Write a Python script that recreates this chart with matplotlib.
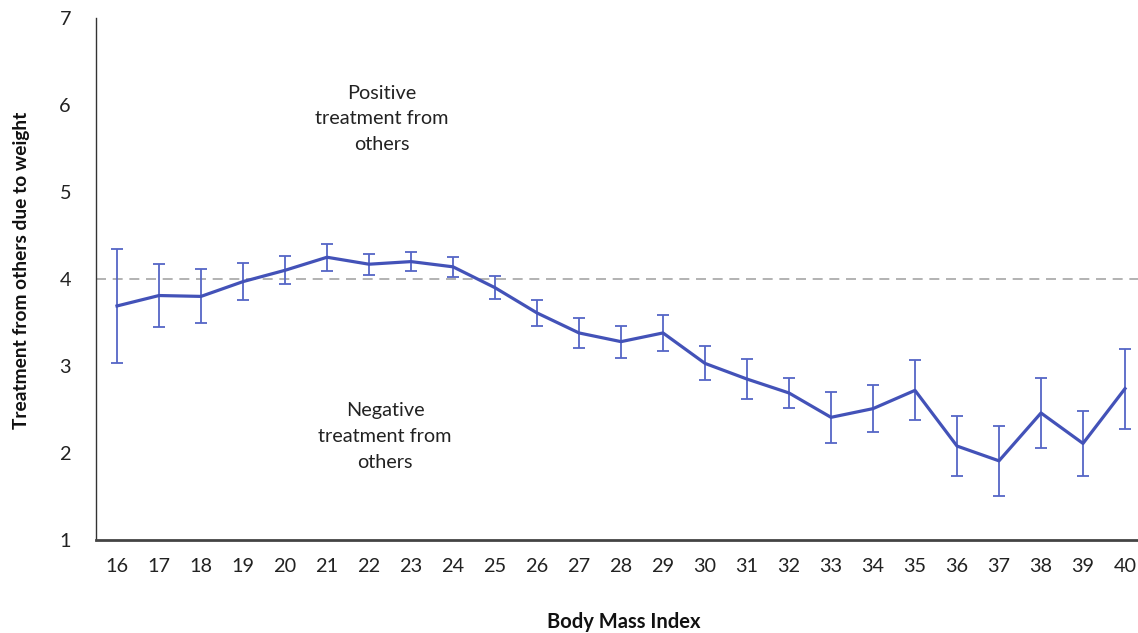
import matplotlib
matplotlib.use("Agg")
from matplotlib import pyplot as plt

bmi = list(range(16, 41))
treatment = [3.69, 3.81, 3.80, 3.97, 4.10, 4.25, 4.17, 4.20, 4.14, 3.90,
             3.61, 3.38, 3.28, 3.38, 3.03, 2.85, 2.69, 2.41, 2.51, 2.72,
             2.08, 1.91, 2.46, 2.11, 2.74]
err = [0.66, 0.36, 0.31, 0.21, 0.16, 0.155, 0.12, 0.11, 0.115, 0.135,
       0.145, 0.175, 0.185, 0.21, 0.195, 0.225, 0.175, 0.29, 0.27, 0.345,
       0.345, 0.40, 0.405, 0.375, 0.46]
y_ticks = [1, 2, 3, 4, 5, 6, 7]

plt.rcParams["font.family"] = ["Lato", "DejaVu Sans"]

fig = plt.figure(figsize=(11.38, 6.33), dpi=100)
ax = fig.add_axes([96 / 1138, 93 / 633, 1050 / 1138, 522 / 633])

line_color = "#4352b8"
ax.axhline(4, color="#a6a6a6", linestyle=(0, (6, 4)), linewidth=1.2, zorder=1)
ax.errorbar(bmi, treatment, yerr=err, color=line_color, linewidth=2.3,
            ecolor="#5566c6", elinewidth=1.3, capsize=4, capthick=1.3, zorder=3)

ax.text(22.3, 5.84, "Positive\ntreatment from\nothers", ha="center", va="center",
        fontsize=14.3, linespacing=1.62, color="#222222")
ax.text(22.38, 2.19, "Negative\ntreatment from\nothers", ha="center", va="center",
        fontsize=14.3, linespacing=1.62, color="#222222")

ax.set_xlim(15.5, 40.5)
ax.set_ylim(1, 7)
ax.set_xticks(bmi)
ax.set_yticks(y_ticks)
ax.tick_params(axis="both", length=0, labelsize=14.3, labelcolor="#222222")
ax.tick_params(axis="x", pad=13)
ax.tick_params(axis="y", pad=18)

for side in ["top", "right"]:
    ax.spines[side].set_visible(False)
ax.spines["left"].set_color("#333333")
ax.spines["left"].set_linewidth(1.0)
ax.spines["bottom"].set_color("#444444")
ax.spines["bottom"].set_linewidth(2.0)

fig.text(624 / 1138, 1 - 622 / 633, "Body Mass Index", ha="center", va="center",
         fontsize=14.5, fontweight="bold", color="#111111")
fig.text(22 / 1138, 1 - 270 / 633, "Treatment from others due to weight",
         ha="center", va="center", rotation=90, fontsize=13.8,
         fontweight="bold", color="#111111")

fig.savefig("out.png", dpi=100)
